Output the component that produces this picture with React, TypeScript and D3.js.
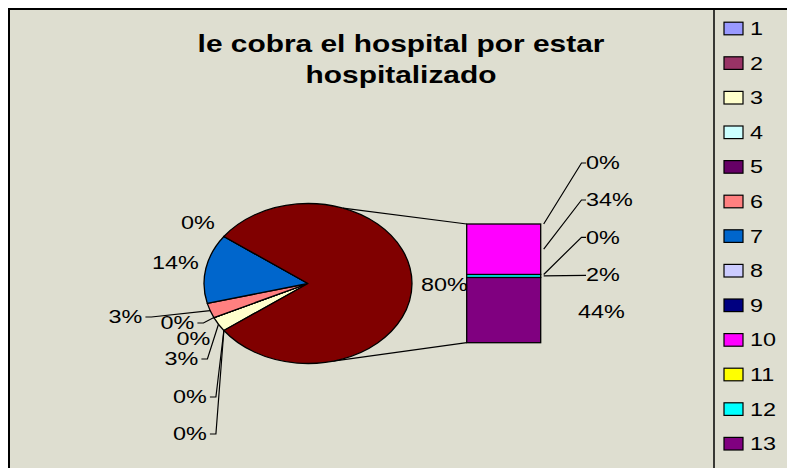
import React from 'react';
import * as d3 from 'd3';

// ---------- data ----------
const categories = ['1', '2', '3', '4', '5', '6', '7', '8', '9', '10', '11', '12', '13'];
const values = [0, 0, 3, 0, 0, 3, 14, 0, 0, 34, 0, 2, 44];
const colors = ['#9999FF', '#993366', '#FFFFCC', '#CCFFFF', '#660066', '#FF8080', '#0066CC',
  '#CCCCFF', '#000080', '#FF00FF', '#FFFF00', '#00FFFF', '#800080'];
const otherColor = '#800000';
const secondPlotCount = 5;
const titleLines = ['le cobra el hospital por estar', 'hospitalizado'];

// ---------- layout ----------
const W = 787, H = 468;
const SX = 1.3; // horizontal stretch of the picture
const FONT = '"Liberation Sans", Arial, Helvetica, sans-serif';
const cx = 308, cy = 283.5, R = 80;
const bar = { x0: 466.7, x1: 540.7, top: 224, bottom: 342.7 };
const connectorAngles = [19.7, 166]; // degrees on pie rim
const pieLabelLayout = [
  { x: 190, y: 434, leader: true },
  { x: 190, y: 397, leader: true },
  { x: 181.5, y: 359, leader: true },
  { x: 193.5, y: 339, leader: false },
  { x: 177.5, y: 323, leader: true },
  { x: 125.5, y: 317, leader: true },
  { x: 175.5, y: 263, leader: false },
  { x: 198, y: 223, leader: false },
];
const otherLabelLayout = { x: 444.5, y: 285 };
const barLabelLayout = [
  { x: 586, y: 163, leader: 'bent' },
  { x: 586, y: 200, leader: 'bent' },
  { x: 586, y: 237.3, leader: 'bent' },
  { x: 586, y: 274.3, leader: 'straight' },
  { x: 578, y: 312, leader: 'none' },
];

const fmt = (v: number, t: number) => `${Math.round((v / t) * 100)}%`;
const textW = (s: string, fs: number) => {
  let w = 0;
  for (const ch of s) w += ch === '%' ? 0.889 : 0.556;
  return w * fs * SX;
};

export default function App() {
  const total = d3.sum(values);
  const nPie = values.length - secondPlotCount;
  const pieVals = values.slice(0, nPie);
  const barVals = values.slice(nPie);
  const other = d3.sum(barVals);
  const start = Math.PI / 2 + (other / total) * Math.PI;
  const pie = d3.pie<number>().sort(null).value((d) => d).startAngle(start).endAngle(start + 2 * Math.PI);
  const arcs = pie([...pieVals, other]);
  const arcGen = d3.arc<d3.PieArcDatum<number>>().innerRadius(0).outerRadius(R);
  const pt = (a: number, r = R): [number, number] => [cx + SX * r * Math.sin(a), cy - r * Math.cos(a)];

  const y = d3.scaleLinear().domain([0, other]).range([bar.bottom, bar.top]);
  // stack from bottom: last category at bottom
  const segs: { i: number; y0: number; y1: number }[] = [];
  let acc = 0;
  for (let k = barVals.length - 1; k >= 0; k--) {
    segs.push({ i: k, y0: y(acc), y1: y(acc + barVals[k]) });
    acc += barVals[k];
  }

  const fs = 18;
  const txt = (s: string, x: number, yy: number, anchor: string, size = fs, weight = 'normal', key?: any) => (
    <text key={key} transform={`translate(${x},${yy}) scale(${SX},1)`} textAnchor={anchor}
      dominantBaseline="central" fontFamily={FONT} fontSize={size} fontWeight={weight} fill="#000">{s}</text>
  );

  const line = d3.line();

  return (
    <svg width={W} height={H} style={{ position: 'absolute', left: 0, top: 0, background: '#fff' }}>
      <rect x={9} y={9} width={W + 20} height={H + 20} fill="#DEDED0" stroke="#000" strokeWidth={2} />
      {/* title */}
      {titleLines.map((t, i) => (
        <text key={i} transform={`translate(401,${52 + i * 31}) scale(${SX},1)`} textAnchor="middle"
          fontFamily={FONT} fontSize={23} fontWeight="bold" fill="#000">{t}</text>
      ))}

      {/* connector lines */}
      {connectorAngles.map((deg, i) => {
        const p = pt((deg * Math.PI) / 180);
        const q: [number, number] = [bar.x0, i === 0 ? bar.top : bar.bottom];
        return <path key={i} d={line([p, q]) || ''} stroke="#000" strokeWidth={1.2} fill="none" />;
      })}

      {/* pie */}
      <g transform={`translate(${cx},${cy}) scale(${SX},1)`}>
        {arcs.map((a, i) => (
          <path key={i} d={arcGen(a) || ''} fill={i < nPie ? colors[i] : otherColor}
            stroke="#000" strokeWidth={1.3} vectorEffect="non-scaling-stroke" strokeLinejoin="round" />
        ))}
      </g>

      {/* bar */}
      {segs.map((s) => (
        <rect key={s.i} x={bar.x0} y={s.y1} width={bar.x1 - bar.x0} height={Math.max(0, s.y0 - s.y1)}
          fill={colors[nPie + s.i]} stroke="#000" strokeWidth={1.3} />
      ))}

      {/* pie labels */}
      {arcs.slice(0, nPie).map((a, i) => {
        const L = pieLabelLayout[i];
        const s = fmt(a.data, total);
        const mid = (a.startAngle + a.endAngle) / 2;
        const anchor = pt(mid);
        const x0 = L.x + textW(s, fs) / 2 + 3;
        return (
          <g key={i}>
            {L.leader && (
              <path d={line([[x0, L.y], [x0 + 6, L.y], anchor]) || ''} stroke="#000" strokeWidth={1.2} fill="none" />
            )}
            {txt(s, L.x, L.y, 'middle')}
          </g>
        );
      })}
      {txt(fmt(other, total), otherLabelLayout.x, otherLabelLayout.y, 'middle')}

      {/* bar labels */}
      {barVals.map((v, k) => {
        const L = barLabelLayout[k];
        const seg = segs.find((s) => s.i === k)!;
        const ay = (seg.y0 + seg.y1) / 2;
        const a: [number, number] = [bar.x1 + 3, ay];
        let d = '';
        if (L.leader === 'bent') d = line([a, [L.x - 4.5, L.y], [L.x, L.y]]) || '';
        if (L.leader === 'straight') d = line([a, [L.x, L.y + 1]]) || '';
        return (
          <g key={k}>
            {d && <path d={d} stroke="#000" strokeWidth={1.2} fill="none" />}
            {txt(fmt(v, total), L.x, L.y, 'start')}
          </g>
        );
      })}

      {/* legend */}
      <line x1={714} y1={9} x2={714} y2={H + 10} stroke="#000" strokeWidth={1.5} />
      {categories.map((c, i) => {
        const yy = 28.5 + i * 34.6;
        return (
          <g key={c}>
            <rect x={724} y={yy - 6.3} width={19} height={12.6} fill={colors[i]} stroke="#000" strokeWidth={1.2} />
            {txt(c, 750, yy, 'start')}
          </g>
        );
      })}
    </svg>
  );
}
